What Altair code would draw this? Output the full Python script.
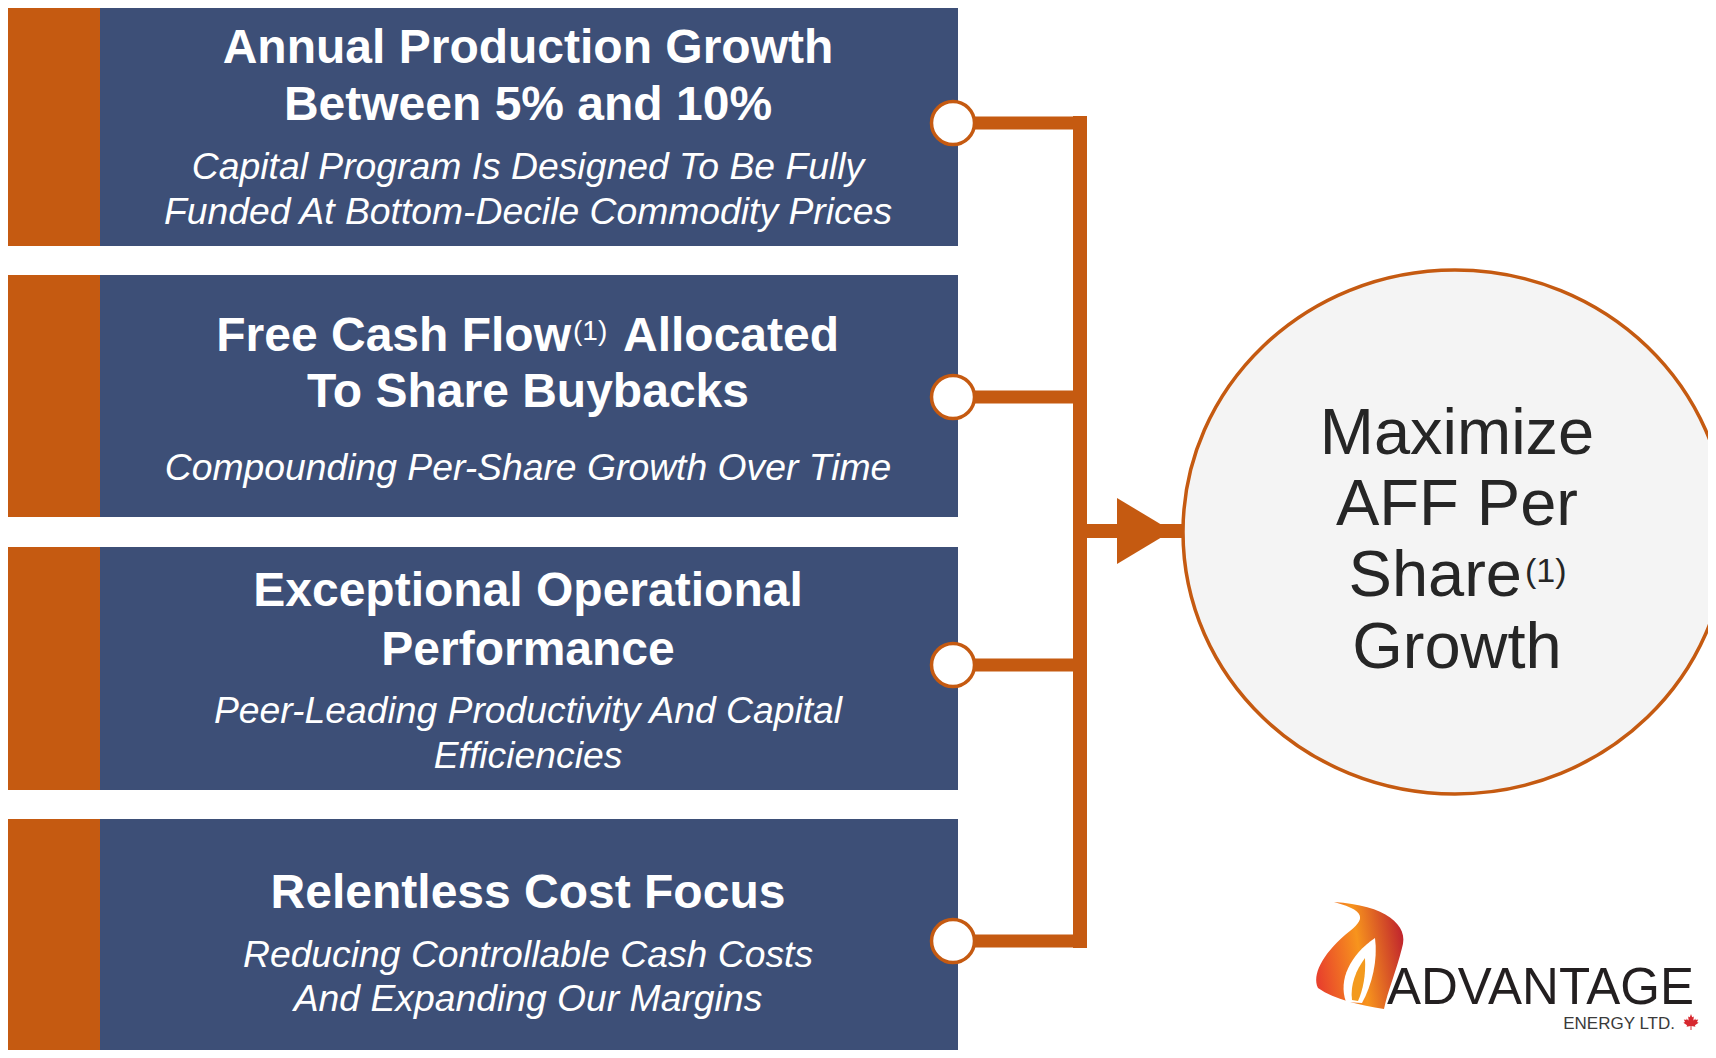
import altair as alt
import pandas as pd

# ---------------- content ----------------
BOX_TITLES = [
    ["Annual Production Growth", "Between 5% and 10%"],
    ["Free Cash Flow(1) Allocated", "To Share Buybacks"],
    ["Exceptional Operational", "Performance"],
    ["Relentless Cost Focus"],
]
BOX_SUBTITLES = [
    ["Capital Program Is Designed To Be Fully", "Funded At Bottom-Decile Commodity Prices"],
    ["Compounding Per-Share Growth Over Time"],
    ["Peer-Leading Productivity And Capital", "Efficiencies"],
    ["Reducing Controllable Cash Costs", "And Expanding Our Margins"],
]
GOAL_LINES = ["Maximize", "AFF Per", "Share(1)", "Growth"]
NOTE_MARK = "(1)"
LOGO_NAME = "ADVANTAGE"
LOGO_SUB = "ENERGY LTD."

# ---------------- layout (reference pixels) ----------------
ORANGE = "#C55A11"
NAVY = "#3D4F77"
FONT = "Arial, Liberation Sans, sans-serif"

BOX_TOP = [3, 275, 547, 819]
BOX_BOTTOM = [246, 517, 790, 1060]
STRIP_LEFT, STRIP_RIGHT, BOX_RIGHT = 0, 100, 958
TEXT_X = 528
TITLE_BASE = [[63, 120], [351, 407], [606, 665], [908]]
SUB_BASE = [[179, 224], [480], [723, 768], [967, 1011]]
SUP_SPLIT = [571, 573, 623]          # end of lead text, start of mark, start of tail
NODE_X = 953
NODE_Y = [123, 397, 665, 941]
BUS_X, BUS_RIGHT = 1080, 1087
ARROW_Y, ARROW_END = 531, 1185
ARROW_HEAD_X = 1144.5
GOAL_X, GOAL_Y = 1455, 532
GOAL_TEXT_X = 1457
GOAL_BASE = [454, 525, 596, 668]
GOAL_SUP = [1522, 1525, 582]
LOGO_X, LOGO_Y = 1387, 1004
LOGO_SUB_X, LOGO_SUB_Y = 1675, 1029
FLAME_X, FLAME_Y = 1360, 956
LEAF_X, LEAF_Y = 1691, 1022

W, H = 1700, 1042
XS = alt.Scale(domain=[8, 8 + W], nice=False, zero=False)
YS = alt.Scale(domain=[8, 8 + H], nice=False, zero=False, reverse=True)


def X(f="x"):
    return alt.X(f"{f}:Q", scale=XS, axis=None)


def Y(f="y"):
    return alt.Y(f"{f}:Q", scale=YS, axis=None)


# ---------------- boxes ----------------
strip_df = pd.DataFrame({"x": STRIP_LEFT, "x2": STRIP_RIGHT, "y": BOX_TOP, "y2": BOX_BOTTOM})
box_df = pd.DataFrame({"x": STRIP_RIGHT, "x2": BOX_RIGHT, "y": BOX_TOP, "y2": BOX_BOTTOM})

strips = alt.Chart(strip_df).mark_rect(color=ORANGE, clip=True).encode(
    x=X(), x2="x2:Q", y=Y(), y2="y2:Q")
boxes = alt.Chart(box_df).mark_rect(color=NAVY, clip=True).encode(
    x=X(), x2="x2:Q", y=Y(), y2="y2:Q")

# ---------------- box texts ----------------
center_rows, lead_rows, mark_rows, tail_rows, sub_rows = [], [], [], [], []
for lines, bases in zip(BOX_TITLES, TITLE_BASE):
    for line, b in zip(lines, bases):
        if NOTE_MARK in line:
            lead, tail = line.split(NOTE_MARK)
            lead_rows.append({"x": SUP_SPLIT[0], "y": b, "t": lead.strip()})
            mark_rows.append({"x": SUP_SPLIT[1], "y": b - 11, "t": NOTE_MARK})
            tail_rows.append({"x": SUP_SPLIT[2], "y": b, "t": tail.strip()})
        else:
            center_rows.append({"x": TEXT_X, "y": b, "t": line})
for lines, bases in zip(BOX_SUBTITLES, SUB_BASE):
    for line, b in zip(lines, bases):
        sub_rows.append({"x": TEXT_X, "y": b, "t": line})

title_kw = dict(font=FONT, fontSize=48, fontWeight="bold", color="white",
                baseline="alphabetic")
titles_c = alt.Chart(pd.DataFrame(center_rows)).mark_text(align="center", **title_kw).encode(
    x=X(), y=Y(), text="t:N")
titles_l = alt.Chart(pd.DataFrame(lead_rows)).mark_text(align="right", **title_kw).encode(
    x=X(), y=Y(), text="t:N")
titles_t = alt.Chart(pd.DataFrame(tail_rows)).mark_text(align="left", **title_kw).encode(
    x=X(), y=Y(), text="t:N")
titles_m = alt.Chart(pd.DataFrame(mark_rows)).mark_text(
    align="left", font=FONT, fontSize=28, color="white", baseline="alphabetic").encode(
    x=X(), y=Y(), text="t:N")
subs = alt.Chart(pd.DataFrame(sub_rows)).mark_text(
    align="center", font=FONT, fontSize=37.3, fontStyle="italic", color="white",
    baseline="alphabetic").encode(x=X(), y=Y(), text="t:N")

# ---------------- connectors ----------------
h_df = pd.DataFrame({"x": NODE_X, "x2": BUS_RIGHT, "y": NODE_Y})
h_rules = alt.Chart(h_df).mark_rule(color=ORANGE, strokeWidth=13, strokeCap="butt").encode(
    x=X(), x2="x2:Q", y=Y())
v_df = pd.DataFrame({"x": [BUS_X], "y": [NODE_Y[0] - 7], "y2": [NODE_Y[-1] + 7]})
v_rule = alt.Chart(v_df).mark_rule(color=ORANGE, strokeWidth=14, strokeCap="butt").encode(
    x=X(), y=Y(), y2="y2:Q")
a_df = pd.DataFrame({"x": [BUS_RIGHT], "x2": [ARROW_END], "y": [ARROW_Y]})
a_rule = alt.Chart(a_df).mark_rule(color=ORANGE, strokeWidth=14, strokeCap="butt").encode(
    x=X(), x2="x2:Q", y=Y())
head_df = pd.DataFrame({"x": [ARROW_HEAD_X], "y": [ARROW_Y]})
head = alt.Chart(head_df).mark_point(
    shape="M -0.833 -1 L 0.833 0 L -0.833 1 Z", size=66 * 66, filled=True,
    fill=ORANGE, strokeWidth=0, opacity=1).encode(x=X(), y=Y())

nodes = alt.Chart(pd.DataFrame({"x": NODE_X, "y": NODE_Y})).mark_point(
    shape="circle", size=43 * 43, filled=True, fill="white", stroke=ORANGE,
    strokeWidth=3.5, opacity=1).encode(x=X(), y=Y())

# ---------------- goal circle ----------------
ELLIPSE = ("M 1 0 C 1 0.5319 0.5523 0.963 0 0.963 C -0.5523 0.963 -1 0.5319 -1 0 "
           "C -1 -0.5319 -0.5523 -0.963 0 -0.963 C 0.5523 -0.963 1 -0.5319 1 0 Z")
goal = alt.Chart(pd.DataFrame({"x": [GOAL_X], "y": [GOAL_Y]})).mark_point(
    shape=ELLIPSE, size=544 * 544, filled=True, fill="#F4F4F4", stroke=ORANGE,
    strokeWidth=3.5, opacity=1, clip=True).encode(x=X(), y=Y())

g_center, g_lead, g_mark = [], [], []
for line, b in zip(GOAL_LINES, GOAL_BASE):
    if NOTE_MARK in line:
        g_lead.append({"x": GOAL_SUP[0], "y": b, "t": line.replace(NOTE_MARK, "")})
        g_mark.append({"x": GOAL_SUP[1], "y": GOAL_SUP[2], "t": NOTE_MARK})
    else:
        g_center.append({"x": GOAL_TEXT_X, "y": b, "t": line})
goal_kw = dict(font=FONT, fontSize=65, color="#262626", baseline="alphabetic")
goal_c = alt.Chart(pd.DataFrame(g_center)).mark_text(align="center", **goal_kw).encode(
    x=X(), y=Y(), text="t:N")
goal_l = alt.Chart(pd.DataFrame(g_lead)).mark_text(align="right", **goal_kw).encode(
    x=X(), y=Y(), text="t:N")
goal_m = alt.Chart(pd.DataFrame(g_mark)).mark_text(
    align="left", font=FONT, fontSize=34, color="#262626", baseline="alphabetic").encode(
    x=X(), y=Y(), text="t:N")

# ---------------- logo ----------------
FLAME = ("M -26 -54 C 25 -51 50 -31 42 -8 C 36 16 28 34 24 53 C 0 49 -25 44 -42 32 "
         "C -48 19 -38 -1 -15 -21 C 2 -34 12 -44 -26 -54 Z")
FLAME_IN = "M -14 46 C -22 24 -10 -1 15 -18 C 18 4 12 29 2 47 Z"
FLAME_CORE = "M -8 44 C -10 29 -4 14 5 2 C 6 19 3 34 -2 45 Z"
flame_grad = alt.LinearGradient(
    gradient="linear",
    stops=[alt.GradientStop(color="#E8412C", offset=0),
           alt.GradientStop(color="#F7941D", offset=0.5),
           alt.GradientStop(color="#C1272D", offset=1)],
    x1=0, x2=1, y1=0.6, y2=0.4)
fl_df = pd.DataFrame({"x": [FLAME_X], "y": [FLAME_Y]})
flame = alt.Chart(fl_df).mark_point(
    shape=FLAME, size=4, filled=True, fill=flame_grad, strokeWidth=0, opacity=1).encode(
    x=X(), y=Y())
flame_in = alt.Chart(fl_df).mark_point(
    shape=FLAME_IN, size=4, filled=True, fill="white", strokeWidth=0, opacity=1).encode(
    x=X(), y=Y())
flame_core = alt.Chart(fl_df).mark_point(
    shape=FLAME_CORE, size=4, filled=True, fill="#F39A1E", strokeWidth=0, opacity=1).encode(
    x=X(), y=Y())

logo_name = alt.Chart(pd.DataFrame({"x": [LOGO_X], "y": [LOGO_Y], "t": [LOGO_NAME]})).mark_text(
    align="left", baseline="alphabetic", font=FONT, fontSize=51, color="#231F20").encode(
    x=X(), y=Y(), text="t:N")
logo_sub = alt.Chart(pd.DataFrame({"x": [LOGO_SUB_X], "y": [LOGO_SUB_Y], "t": [LOGO_SUB]})).mark_text(
    align="right", baseline="alphabetic", font=FONT, fontSize=17, color="#3A3A3A").encode(
    x=X(), y=Y(), text="t:N")
LEAF = ("M 0 -1 L 0.15 -0.6 L 0.35 -0.7 L 0.3 -0.2 L 0.6 -0.45 L 0.55 -0.25 L 0.9 -0.3 "
        "L 0.75 0 L 0.95 0.1 L 0.5 0.4 L 0.55 0.6 L 0.06 0.5 L 0.06 1 L -0.06 1 L -0.06 0.5 "
        "L -0.55 0.6 L -0.5 0.4 L -0.95 0.1 L -0.75 0 L -0.9 -0.3 L -0.55 -0.25 L -0.6 -0.45 "
        "L -0.3 -0.2 L -0.35 -0.7 L -0.15 -0.6 Z")
leaf = alt.Chart(pd.DataFrame({"x": [LEAF_X], "y": [LEAF_Y]})).mark_point(
    shape=LEAF, size=16 * 16, filled=True, fill="#D7282F", strokeWidth=0, opacity=1).encode(
    x=X(), y=Y())

chart = alt.layer(
    strips, boxes, titles_c, titles_l, titles_t, titles_m, subs,
    h_rules, v_rule, a_rule, head, nodes, goal, goal_c, goal_l, goal_m,
    flame, flame_in, flame_core, logo_name, logo_sub, leaf,
).properties(
    width=W, height=H, padding=0, background="white",
    autosize=alt.AutoSizeParams(type="none"),
).configure_view(strokeOpacity=0)

chart.save("out.html", embed_options={"renderer": "svg", "actions": False})
